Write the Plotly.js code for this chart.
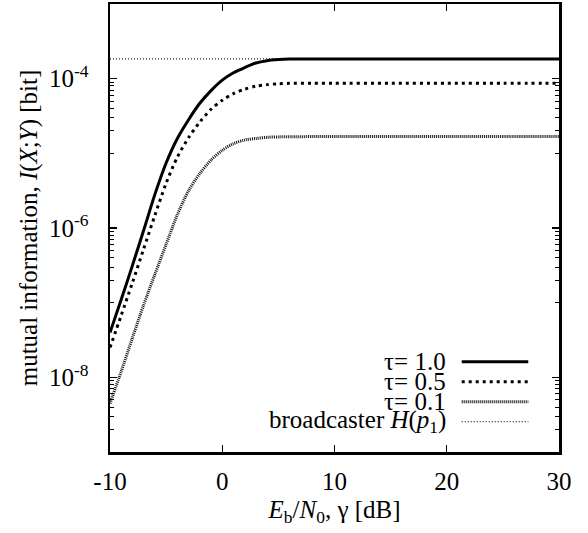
<!DOCTYPE html>
<html>
<head>
<meta charset="utf-8">
<script src="https://cdn.plot.ly/plotly-3.0.1.min.js"></script>
<style>html,body{margin:0;padding:0;background:#fff;}#chart{width:588px;height:533px;}</style>
</head>
<body>
<div id="chart"></div>
<script>
// ---- data ----
const ebn0 = [-10,-9,-8,-7,-6,-5,-4,-3,-2,-1,0,1,2,3,4,5,6,8,10,15,20,25,30];
const tau10 = [3.98e-8,1.10e-7,3.16e-7,9.33e-7,2.82e-6,7.41e-6,1.58e-5,2.82e-5,4.68e-5,6.92e-5,9.55e-5,1.20e-4,1.41e-4,1.62e-4,1.74e-4,1.80e-4,1.83e-4,1.84e-4,1.84e-4,1.84e-4,1.84e-4,1.84e-4,1.84e-4];
const tau05 = [2.51e-8,6.76e-8,1.86e-7,5.25e-7,1.48e-6,3.98e-6,8.91e-6,1.62e-5,2.63e-5,3.89e-5,5.13e-5,6.31e-5,7.24e-5,7.94e-5,8.32e-5,8.55e-5,8.65e-5,8.69e-5,8.70e-5,8.70e-5,8.70e-5,8.70e-5,8.70e-5];
const tau01 = [4.47e-9,1.20e-8,3.39e-8,9.33e-8,2.40e-7,6.03e-7,1.51e-6,3.16e-6,5.37e-6,8.13e-6,1.10e-5,1.35e-5,1.51e-5,1.58e-5,1.64e-5,1.66e-5,1.67e-5,1.675e-5,1.675e-5,1.675e-5,1.675e-5,1.675e-5,1.675e-5];
const bcX = [-10, 30];
const bcY = [1.84e-4, 1.84e-4];
const seriesNames = ['τ= 1.0','τ= 0.5','τ= 0.1','broadcaster <i>H</i>(<i>p</i><sub>1</sub>)'];
const xTickVals = [-10,0,10,20,30];
const xTickText = ['-10','0','10','20','30'];
const yTickVals = [1e-8,1e-6,1e-4];
const yTickText = ['10<sup>-8</sup>','10<sup>-6</sup>','10<sup>-4</sup>'];
const yMinorVals = [2e-9,3e-9,4e-9,5e-9,6e-9,7e-9,8e-9,9e-9,
  1e-7,2e-7,3e-7,4e-7,5e-7,6e-7,7e-7,8e-7,9e-7,
  1e-5,2e-5,3e-5,4e-5,5e-5,6e-5,7e-5,8e-5,9e-5];

// ---- styles ----
const FONT = 'Liberation Serif, Times New Roman, serif';
const FS = 25;
const styles = [
  {color:'#000', width:3, dash:'solid'},
  {color:'#000', width:3, dash:'3px,4px'},
  {color:'#111', width:3, dash:'1px,1px'},
  {color:'#222', width:1.2, dash:'1px,2px'}
];

const traces = [
  {x: bcX, y: bcY, name: seriesNames[3], mode:'lines', line: styles[3], showlegend:false, hoverinfo:'skip'},
  {x: ebn0, y: tau01, name: seriesNames[2], mode:'lines', line: Object.assign({shape:'spline', smoothing:0.8}, styles[2]), showlegend:false},
  {x: ebn0, y: tau05, name: seriesNames[1], mode:'lines', line: Object.assign({shape:'spline', smoothing:0.8}, styles[1]), showlegend:false},
  {x: ebn0, y: tau10, name: seriesNames[0], mode:'lines', line: Object.assign({shape:'spline', smoothing:0.8}, styles[0]), showlegend:false}
];

// custom legend (text on the left, sample on the right, as in the reference)
const legRowsY = [0.2016, 0.157, 0.1123, 0.0676];
const annotations = seriesNames.map((n,i)=>({
  xref:'paper', yref:'paper', x:0.75, y:legRowsY[i], xanchor:'right', yanchor:'middle',
  text:n, showarrow:false, font:{family:FONT, size:FS, color:'#000'}, borderpad:0
}));
const shapes = styles.map((s,i)=>({
  type:'line', xref:'paper', yref:'paper', x0:0.7833, x1:0.9316, y0:legRowsY[i], y1:legRowsY[i],
  line:{color:s.color, width:s.width, dash:s.dash}
}));

const layout = {
  width:588, height:533,
  margin:{l:110, r:29, t:4, b:81, pad:0},
  paper_bgcolor:'#fff', plot_bgcolor:'#fff',
  font:{family:FONT, size:FS, color:'#000'},
  showlegend:false,
  xaxis:{
    range:[-10,30], tickvals:xTickVals, ticktext:xTickText, ticks:'inside', ticklen:7, tickwidth:1.2, tickcolor:'#000',
    showline:true, linewidth:2.5, linecolor:'#000', mirror:'ticks', showgrid:false, zeroline:false,
    tickfont:{family:FONT, size:FS}, ticklabelstandoff:5,
    title:{text:'<i>E</i><sub>b</sub>/<i>N</i><sub>0</sub>, γ [dB]', font:{family:FONT, size:FS}, standoff:7}
  },
  yaxis:{
    type:'log', range:[-9,-3], tickvals:yTickVals, ticktext:yTickText,
    ticks:'inside', ticklen:7, tickwidth:1.2, tickcolor:'#000',
    minor:{tickvals:yMinorVals, ticks:'inside', ticklen:4, tickwidth:1, tickcolor:'#000', showgrid:false},
    showline:true, linewidth:2.5, linecolor:'#000', mirror:'ticks', showgrid:false, zeroline:false,
    tickfont:{family:FONT, size:FS}, ticklabelstandoff:14,
    title:{text:'mutual information, <i>I</i>(<i>X</i>;<i>Y</i>) [bit]', font:{family:FONT, size:FS}, standoff:4}
  },
  annotations: annotations,
  shapes: shapes
};

Plotly.newPlot('chart', traces, layout, {staticPlot:true, displayModeBar:false});
</script>
</body>
</html>
